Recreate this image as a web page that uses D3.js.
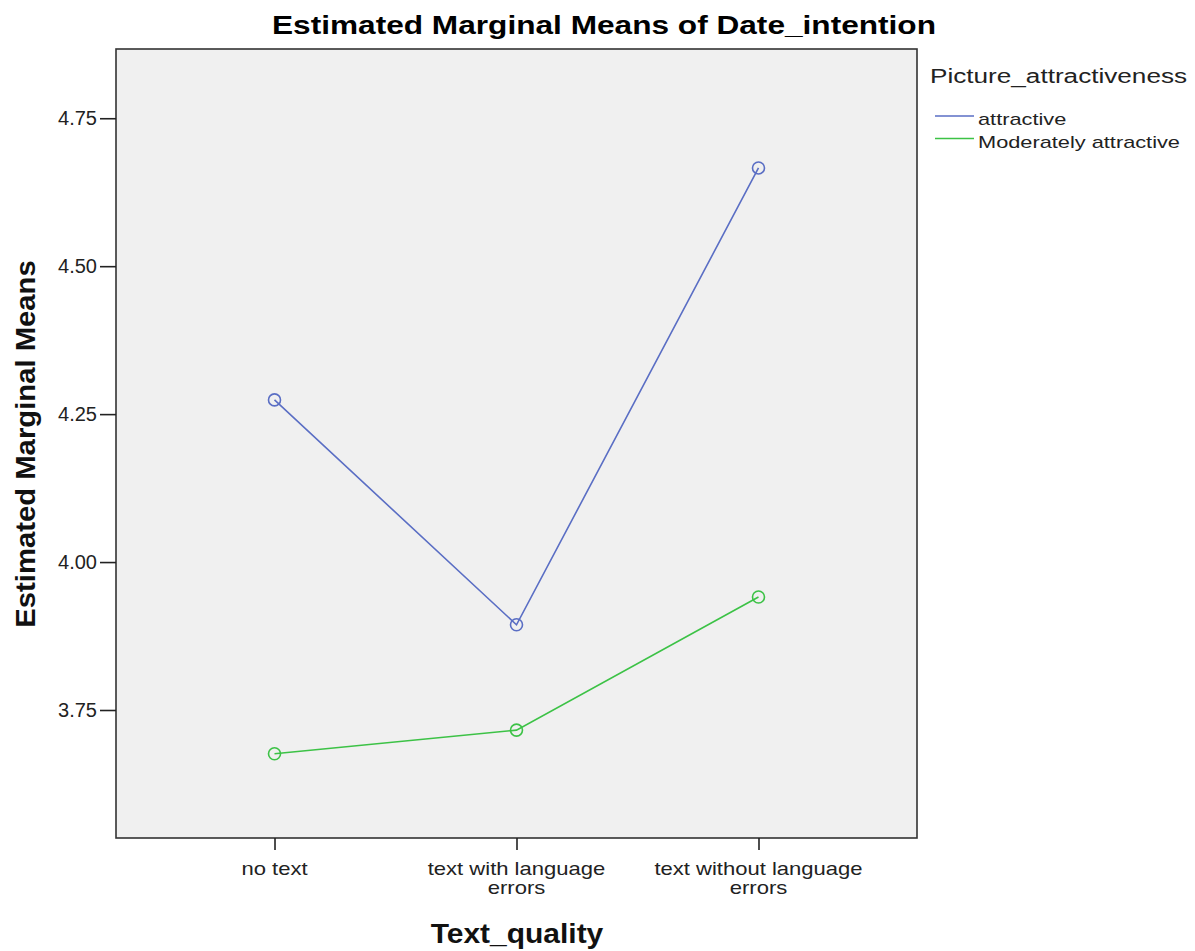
<!DOCTYPE html>
<html><head><meta charset="utf-8">
<script src="https://cdn.jsdelivr.net/npm/d3@7"></script>
<style>body{margin:0;background:#fff;} text{font-family:"Liberation Sans",Arial,sans-serif;}</style>
</head><body>
<svg id="chart" width="1195" height="951"></svg>
<script>
const categories = ["no text", "text with language errors", "text without language errors"];
const categoryLines = [["no text"], ["text with language", "errors"], ["text without language", "errors"]];
const seriesNames = ["attractive", "Moderately attractive"];
const attractive = [4.274, 3.894, 4.666];
const moderatelyAttractive = [3.676, 3.716, 3.941];
const yTicks = [3.75, 4.00, 4.25, 4.50, 4.75];
const colors = ["#5a6ec4", "#3cc246"];

const svg = d3.select("#chart");
const L = 116, R = 917, T = 49, B = 838;
const x = d3.scalePoint().domain(categories).range([L, R]).padding(0.655);
const y = d3.scaleLinear().domain([3.5337, 4.867]).range([B, T]);

function stretch(sel, f) {
  sel.each(function () {
    const w = this.getComputedTextLength();
    d3.select(this).attr("textLength", w * f).attr("lengthAdjust", "spacingAndGlyphs");
  });
}

svg.append("rect").attr("x", L).attr("y", T).attr("width", R - L).attr("height", B - T)
  .attr("fill", "#f0f0f0").attr("stroke", "#333").attr("stroke-width", 1.6);

// title
svg.append("text").attr("x", 604).attr("y", 34).attr("text-anchor", "middle")
  .attr("font-size", 26).attr("font-weight", "bold").attr("textLength", 664)
  .attr("lengthAdjust", "spacingAndGlyphs").text("Estimated Marginal Means of Date_intention");

// y axis
const yAxis = d3.axisLeft(y).tickValues(yTicks).tickFormat(d3.format(".2f")).tickSize(16).tickPadding(3);
const gy = svg.append("g").attr("transform", `translate(${L},0)`).call(yAxis);
gy.select(".domain").remove();
gy.selectAll(".tick line").attr("stroke", "#222").attr("stroke-width", 1.6);
gy.selectAll(".tick text").attr("font-size", 20).attr("fill", "#222")
  .attr("font-family", "Liberation Sans, Arial, sans-serif");

// x axis
const xAxis = d3.axisBottom(x).tickSize(12).tickFormat("");
const gx = svg.append("g").attr("transform", `translate(0,${B})`).call(xAxis);
gx.select(".domain").remove();
gx.selectAll(".tick line").attr("stroke", "#222").attr("stroke-width", 1.6);
categories.forEach((c, i) => {
  categoryLines[i].forEach((ln, j) => {
    svg.append("text").attr("x", x(c)).attr("y", 875 + j * 19).attr("text-anchor", "middle")
      .attr("font-size", 18.5).attr("fill", "#222").text(ln).call(stretch, 1.19);
  });
});

// axis titles
svg.append("text").attr("transform", "translate(35,444) rotate(-90)").attr("text-anchor", "middle")
  .attr("font-size", 28).attr("font-weight", "bold").attr("fill", "#111")
  .text("Estimated Marginal Means").call(stretch, 1.045);
svg.append("text").attr("x", 517).attr("y", 943).attr("text-anchor", "middle")
  .attr("font-size", 28).attr("font-weight", "bold").attr("fill", "#111")
  .text("Text_quality").call(stretch, 1.07);

// series
const series = [attractive, moderatelyAttractive];
const line = d3.line().x((d, i) => x(categories[i])).y(d => y(d));
series.forEach((vals, s) => {
  svg.append("path").datum(vals).attr("d", line).attr("fill", "none")
    .attr("stroke", colors[s]).attr("stroke-width", 1.6);
  svg.selectAll(null).data(vals).enter().append("circle")
    .attr("cx", (d, i) => x(categories[i])).attr("cy", d => y(d)).attr("r", 6)
    .attr("fill", "none").attr("stroke", colors[s]).attr("stroke-width", 1.6);
});

// legend
svg.append("text").attr("x", 930).attr("y", 83).attr("font-size", 19.5).attr("fill", "#222")
  .text("Picture_attractiveness").call(stretch, 1.34);
seriesNames.forEach((n, i) => {
  const yy = 116 + i * 22.5;
  svg.append("line").attr("x1", 935).attr("x2", 974).attr("y1", yy).attr("y2", yy)
    .attr("stroke", colors[i]).attr("stroke-width", 1.6);
  svg.append("text").attr("x", 978).attr("y", yy + 9).attr("font-size", 17).attr("fill", "#222")
    .text(n).call(stretch, 1.28);
});
</script>
</body></html>
